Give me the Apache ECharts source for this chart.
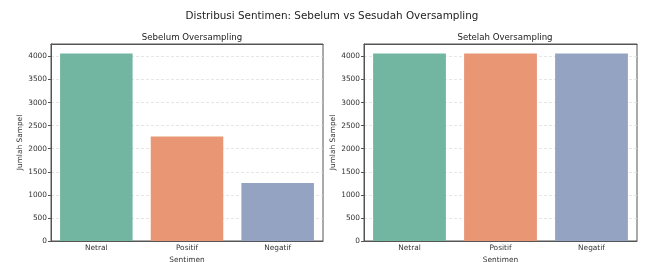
<!DOCTYPE html>
<html><head><meta charset="utf-8">
<script src="https://cdn.jsdelivr.net/npm/echarts@6/dist/echarts.min.js"></script>
<style>html,body{margin:0;padding:0;background:#fff}#c{width:645px;height:262px}</style>
</head><body><div id="c"></div>
<script>
const categories = ['Netral', 'Positif', 'Negatif'];
const before = [4064, 2263, 1259];
const after = [4064, 4064, 4064];
const yTicks = [0, 500, 1000, 1500, 2000, 2500, 3000, 3500, 4000];
const colors = ['#72b6a1', '#e99675', '#95a3c3'];
const mainTitle = 'Distribusi Sentimen: Sebelum vs Sesudah Oversampling';
const subTitles = ['Sebelum Oversampling', 'Setelah Oversampling'];

const F = 'DejaVu Sans';
const chart = echarts.init(document.getElementById('c'), null, {renderer: 'canvas'});
const grids = [
  {left: 51, top: 44, width: 272, height: 197},
  {left: 364, top: 44, width: 273, height: 197}
];
function xAx(i) {
  return {
    type: 'category', gridIndex: i, data: categories,
    name: 'Sentimen', nameLocation: 'middle', nameGap: 16,
    nameTextStyle: {fontFamily: F, fontSize: 7.4, color: '#333'},
    axisLine: {lineStyle: {color: '#555', width: 1}},
    axisTick: {alignWithLabel: true, length: 3, lineStyle: {color: '#555'}},
    axisLabel: {fontFamily: F, fontSize: 7.4, color: '#333', margin: 4},
    splitLine: {show: false}
  };
}
function topAx(i) {
  return {
    type: 'category', gridIndex: i, position: 'top', data: categories, z: 20,
    axisLine: {show: true, lineStyle: {color: '#555', width: 1}},
    axisTick: {show: false}, axisLabel: {show: false}, splitLine: {show: false}
  };
}
function yAx(i) {
  return {
    type: 'value', gridIndex: i, min: 0, max: 4270, interval: 500,
    name: 'Jumlah Sampel', nameLocation: 'middle', nameGap: 27,
    nameTextStyle: {fontFamily: F, fontSize: 7.4, color: '#333'},
    axisLine: {show: true, lineStyle: {color: '#555', width: 1}},
    axisTick: {show: true, length: 3, lineStyle: {color: '#555'}},
    axisLabel: {fontFamily: F, fontSize: 7.4, color: '#333', margin: 4, showMaxLabel: false,
      formatter: v => (yTicks.indexOf(v) >= 0 ? String(v) : '')},
    splitLine: {show: true, lineStyle: {color: '#e0e0e0', type: [3, 2], width: 0.8}}
  };
}
function ser(i, vals) {
  return {
    type: 'bar', xAxisIndex: i, yAxisIndex: i, barWidth: '80%',
    data: vals.map((v, k) => ({value: v, itemStyle: {color: colors[k]}})),
    animation: false
  };
}
chart.setOption({
  animation: false,
  title: [
    {text: mainTitle, left: 327, textAlign: 'center', top: 6, textStyle: {fontFamily: F, fontSize: 10.4, fontWeight: 'normal', color: '#222'}},
    {text: subTitles[0], left: 187, textAlign: 'center', top: 28, textStyle: {fontFamily: F, fontSize: 8.6, fontWeight: 'normal', color: '#222'}},
    {text: subTitles[1], left: 500, textAlign: 'center', top: 28, textStyle: {fontFamily: F, fontSize: 8.6, fontWeight: 'normal', color: '#222'}}
  ],
  grid: grids.map(g => Object.assign({show: true, borderColor: '#555', borderWidth: 1, backgroundColor: 'transparent', containLabel: false, outerBoundsMode: 'none'}, g)),
  xAxis: [xAx(0), xAx(1), topAx(0), topAx(1)],
  yAxis: [yAx(0), yAx(1)],
  series: [ser(0, before), ser(1, after)]
});
</script></body></html>
